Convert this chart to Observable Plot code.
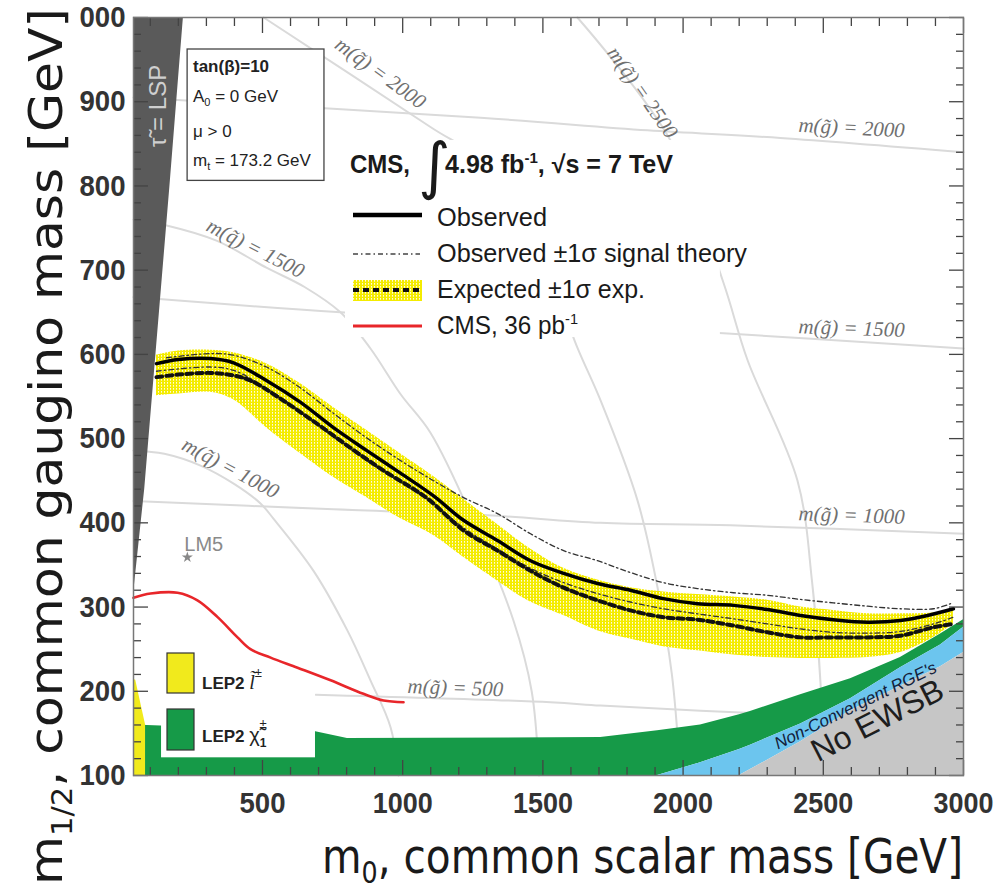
<!DOCTYPE html>
<html><head><meta charset="utf-8">
<script src="https://cdn.jsdelivr.net/npm/d3@7"></script>
<script src="https://cdn.jsdelivr.net/npm/@observablehq/plot@0.6"></script>
<style>body{margin:0;background:#fff;} svg{display:block}</style>
</head><body><div id="chart"></div>
<script>
// ---- axis ticks / labels ----
const xTicks = [500, 1000, 1500, 2000, 2500, 3000];
const xTickLabels = ["500", "1000", "1500", "2000", "2500", "3000"];
const xMinorTicks = [100,200,300,400,600,700,800,900,1100,1200,1300,1400,1600,1700,1800,1900,2100,2200,2300,2400,2600,2700,2800,2900];
const yTicks = [100, 200, 300, 400, 500, 600, 700, 800, 900, 1000];
const yTickLabels = ["100", "200", "300", "400", "500", "600", "700", "800", "900", "000"];
const yMinorTicks = [120,140,160,180,220,240,260,280,320,340,360,380,420,440,460,480,520,540,560,580,620,640,660,680,720,740,760,780,820,840,860,880,920,940,960,980];

// ---- exclusion curves [m0, m1/2] ----
const observed = [[122,589],[200,594],[315,595],[397,590],[514,569],[636,543],[753,513],[871,486],[992,459],[1110,432],[1217,403],[1338,379],[1456,355],[1574,340],[1695,328],[1812,320],[1930,310],[2051,304],[2180,302],[2301,297],[2419,290],[2536,285],[2658,282],[2775,284],[2872,290],[2964,298]];
const expected = [[122,573],[200,576],[315,578],[397,575],[457,569],[575,545],[693,518],[814,489],[932,462],[1049,438],[1099,426],[1217,391],[1338,367],[1456,343],[1574,323],[1695,308],[1812,296],[1930,288],[2051,285],[2180,278],[2301,270],[2419,264],[2536,264],[2658,264],[2775,266],[2893,276],[2964,280]];
const bandM0 = [122,200,315,397,514,636,753,871,992,1110,1217,1338,1456,1574,1695,1812,1930,2051,2180,2301,2419,2536,2658,2775,2893,2964];
const bandHi = [599,604,605,602,589,565,537,510,482,455,428,398,369,346,332,323,318,315,312,308,300,296,292,292,293,296];
const bandLo = [551,553,555,546,513,482,454,430,405,385,359,331,306,290,272,262,253,248,243,240,239,239,240,246,264,280];
const theoryUp = [[158,596],[315,601],[397,599],[514,585],[636,560],[753,530],[871,501],[992,474],[1110,450],[1217,430],[1338,411],[1456,387],[1574,367],[1695,355],[1812,341],[1930,329],[2051,322],[2180,317],[2301,314],[2419,309],[2536,305],[2658,301],[2775,298],[2893,298],[2954,304]];
const theoryDown = [[122,580],[315,585],[397,581],[514,560],[636,532],[753,502],[871,474],[992,448],[1110,423],[1217,394],[1338,369],[1456,346],[1574,329],[1695,316],[1812,306],[1930,298],[2051,292],[2180,286],[2301,280],[2419,274],[2536,270],[2658,269],[2775,271],[2893,280],[2964,288]];
const cms36 = [[40,311],[101,316],[197,317],[268,308],[340,288],[411,264],[457,250],[529,240],[625,228],[743,213],[860,197],[932,189],[1003,187]];

// ---- excluded / unphysical regions ----
const stauLSP = [[40,315],[80,440],[120,600],[170,800],[218,1000]];        // [m0 boundary, m1/2]
const lepSlepton = [[83,100],[83,160],[48,213],[40,214]];                   // [m0 boundary, m1/2]
const regionM0 = [40, 690, 803, 1706, 1909, 2062, 2201, 2240, 2419, 2597, 2775, 2918, 3000];
const ewsbTop  = [100,100,100,100,100,100,100,107,140,177,206,229,246];
const rgeTop   = [100,100,100,100,100,115,131,136,161,191,228,255,276];
const lepChiTop= [160,152,144,145,153,160,172,176,196,215,240,268,285];

// ---- iso-mass contours ----
const squark1000 = [[40,486],[150,482],[279,468],[400,446],[493,423],[539,405],[682,343],[803,272],[885,213],[957,157],[985,100]];
const squark1500 = [[40,760],[158,753],[336,735],[514,703],[650,680],[778,650],[885,607],[992,553],[1099,507],[1242,410],[1395,284],[1460,200],[1486,100]];
const squark2000 = [[504,1000],[1099,870],[1278,830],[1480,730],[1623,608],[1706,545],[1837,427],[1909,323],[1960,220],[1990,100]];
const squark2500 = [[1623,1000],[1955,854],[2144,685],[2230,593],[2408,450],[2460,330],[2490,210],[2497,100]];
const gluino500  = [[690,196],[1527,187],[1706,183],[2062,177],[3000,163]];
const gluino1000 = [[40,426],[753,416],[1303,409],[1706,400],[2169,397],[3000,387]];
const gluino1500 = [[40,668],[778,650],[2144,625],[3000,607]];
const gluino2000 = [[40,905],[1278,881],[1873,866],[2347,857],[3000,840]];
const isoLabels = [
  {t:"m(q\u0303) = 2000", m0:921,  m12:934, a:36},
  {t:"m(q\u0303) = 2500", m0:1855, m12:911, a:55},
  {t:"m(q\u0303) = 1500", m0:475,  m12:726, a:27},
  {t:"m(q\u0303) = 1000", m0:386,  m12:465, a:28},
  {t:"m(g\u0303) = 2000", m0:2601, m12:869, a:3},
  {t:"m(g\u0303) = 1500", m0:2601, m12:631, a:2},
  {t:"m(g\u0303) = 1000", m0:2601, m12:409, a:2},
  {t:"m(g\u0303) = 500",  m0:1188, m12:204, a:2}
];
const lm5 = [{m0:232, m12:359, name:"LM5"}];
const stauLabel = [{t:"\u03c4\u0303 = LSP", m0:129, m12:895}];
const rgeLabel = [{t:"Non-Convergent RGE's", m0:2615, m12:183}];
const ewsbLabel = [{t:"No EWSB", m0:2693, m12:165}];
// white legend backgrounds (in axis units)
const legendBoxes = [
  {x1:796, x2:2133, y1:620, y2:854, s:"none"},
  {x1:140, x2:689,  y1:121, y2:250, s:"none"},
  {x1:233, x2:721,  y1:806, y2:962, s:"#444"}
];

const band = bandM0.map((m, i) => ({m0: m, lo: bandLo[i], hi: bandHi[i]}));
const regions = regionM0.map((m, i) => ({m0: m, ewsb: ewsbTop[i], rge: rgeTop[i], lep: lepChiTop[i]}));
const X = d => d[0], Y = d => d[1];
const isoStyle = {x: X, y: Y, stroke: "#dadada", strokeWidth: 2, curve: "catmull-rom"};
const sans = "Liberation Sans, Arial, sans-serif";

const plot = Plot.plot({
  width: 998, height: 892,
  marginLeft: 133, marginRight: 35, marginTop: 17, marginBottom: 117,
  x: {domain: [40, 3000]},
  y: {domain: [100, 1000]},
  style: {background: "#fff", overflow: "visible"},
  marks: [
    ...[squark1000, squark1500, squark2000, squark2500, gluino500, gluino1000, gluino1500, gluino2000].map(c => Plot.line(c, isoStyle)),
    Plot.text(isoLabels, {x:"m0", y:"m12", text:"t", rotate:"a", fontFamily:"Liberation Serif, serif", fontStyle:"italic", fontSize:21, fill:"#707070"}),
    Plot.areaX(stauLSP, {y: Y, x1: 40, x2: X, fill: "#5a5a5a", curve: "linear"}),
    Plot.areaY(regions, {x:"m0", y1:"rge", y2:"lep", fill:"#169a48"}),
    Plot.areaY(regions, {x:"m0", y1:"ewsb", y2:"rge", fill:"#6cc5ee"}),
    Plot.areaY(regions, {x:"m0", y1:100, y2:"ewsb", fill:"#c6c6c6"}),
    Plot.areaX(lepSlepton, {y: Y, x1: 40, x2: X, fill: "#f1ea1c"}),
    Plot.rect(legendBoxes, {x1:"x1", x2:"x2", y1:"y1", y2:"y2", fill:"#fff", stroke:"s", strokeWidth:1.3}),
    Plot.areaY(band, {x:"m0", y1:"lo", y2:"hi", fill:"url(#ypat)", curve:"catmull-rom"}),
    Plot.line(theoryUp, {x:X, y:Y, stroke:"#333", strokeWidth:1.3, strokeDasharray:"5,3,1.5,3", curve:"catmull-rom"}),
    Plot.line(theoryDown, {x:X, y:Y, stroke:"#333", strokeWidth:1.3, strokeDasharray:"5,3,1.5,3", curve:"catmull-rom"}),
    Plot.line(expected, {x:X, y:Y, stroke:"#111", strokeWidth:4, strokeDasharray:"6,4", curve:"catmull-rom"}),
    Plot.line(observed, {x:X, y:Y, stroke:"#000", strokeWidth:3.5, curve:"catmull-rom"}),
    Plot.line(cms36, {x:X, y:Y, stroke:"#e8262a", strokeWidth:2.6, curve:"catmull-rom"}),
    Plot.dot(lm5, {x:"m0", y:"m12", symbol:"star", r:3.5, fill:"#888", stroke:"none"}),
    Plot.text(lm5, {x:"m0", y:"m12", text:"name", textAnchor:"start", dx:-3, dy:-13, fontSize:20, fill:"#8a8a8a", fontFamily:sans}),
    Plot.text(stauLabel, {x:"m0", y:"m12", text:"t", rotate:-90, fontSize:24, fill:"#cfcfcf", fontFamily:sans}),
    Plot.text(rgeLabel, {x:"m0", y:"m12", text:"t", rotate:-26, fontSize:17, fontStyle:"italic", fill:"#13203a", fontFamily:sans}),
    Plot.text(ewsbLabel, {x:"m0", y:"m12", text:"t", rotate:-27, fontSize:32, fill:"#1e1e1e", fontFamily:sans}),
    // ticks (inward) + labels
    Plot.axisX({anchor:"bottom", ticks:xTicks, tickSize:-15, tickFormat:() => "", label:null, stroke:"#444", strokeWidth:1.3}),
    Plot.axisX({anchor:"bottom", ticks:xMinorTicks, tickSize:-8, tickFormat:() => "", label:null, stroke:"#444", strokeWidth:1.3}),
    Plot.axisX({anchor:"top", ticks:xTicks, tickSize:-15, tickFormat:() => "", label:null, stroke:"#444", strokeWidth:1.3}),
    Plot.axisX({anchor:"top", ticks:xMinorTicks, tickSize:-8, tickFormat:() => "", label:null, stroke:"#444", strokeWidth:1.3}),
    Plot.axisY({anchor:"left", ticks:yTicks, tickSize:-15, tickFormat:() => "", label:null, stroke:"#444", strokeWidth:1.3}),
    Plot.axisY({anchor:"left", ticks:yMinorTicks, tickSize:-8, tickFormat:() => "", label:null, stroke:"#444", strokeWidth:1.3}),
    Plot.axisY({anchor:"right", ticks:yTicks, tickSize:-15, tickFormat:() => "", label:null, stroke:"#444", strokeWidth:1.3}),
    Plot.axisY({anchor:"right", ticks:yMinorTicks, tickSize:-8, tickFormat:() => "", label:null, stroke:"#444", strokeWidth:1.3}),
    Plot.axisX({anchor:"bottom", ticks:xTicks, tickSize:0, tickPadding:16, tickFormat:d => xTickLabels[xTicks.indexOf(d)], label:null, fontSize:30, fontWeight:"bold", fill:"#333"}),
    Plot.axisY({anchor:"left", ticks:yTicks, tickSize:0, tickPadding:8, tickFormat:d => yTickLabels[yTicks.indexOf(d)], label:null, fontSize:30, fontWeight:"bold", fill:"#333"}),
    Plot.frame({stroke:"#777", strokeWidth:1.5})
  ]
});
document.getElementById("chart").appendChild(plot);

const svg = d3.select(plot);
// pattern for expected band
const defs = svg.insert("defs", ":first-child");
const pat = defs.append("pattern").attr("id","ypat").attr("patternUnits","userSpaceOnUse").attr("width",3).attr("height",3);
pat.append("rect").attr("width",3).attr("height",3).attr("fill","#f4ec00");
pat.append("rect").attr("x",2).attr("y",1).attr("width",1).attr("height",1).attr("fill","#fffbe0");
pat.append("rect").attr("x",2).attr("y",2).attr("width",1).attr("height",1).attr("fill","#fbf59a");

// tick label widths (narrow rendering)
svg.selectAll('g[aria-label="x-axis tick label"] text, g[aria-label="y-axis tick label"] text').each(function() {
  const t = this.textContent;
  if (!t) return;
  d3.select(this).attr("textLength", t.length === 4 ? 60 : 46).attr("lengthAdjust", "spacingAndGlyphs").style("font-family", sans);
});

const g = svg.append("g").attr("fill", "#1a1a1a").attr("text-anchor", "start").attr("font-family", sans);
// axis titles
const xt = g.append("text").attr("x", 322).attr("y", 873).attr("font-size", 48)
  .attr("font-family", "DejaVu Sans, sans-serif").attr("textLength", 641).attr("lengthAdjust", "spacingAndGlyphs");
xt.append("tspan").text("m");
xt.append("tspan").attr("font-size", 30).attr("dy", 10).text("0");
xt.append("tspan").attr("dy", -10).text(", common scalar mass [GeV]");
const yt = g.append("text").attr("transform", "translate(62,885) rotate(-90)").attr("font-size", 46)
  .attr("font-family", "DejaVu Sans, sans-serif").attr("textLength", 877).attr("lengthAdjust", "spacingAndGlyphs");
yt.append("tspan").text("m");
yt.append("tspan").attr("font-size", 28).attr("dy", 10).text("1/2");
yt.append("tspan").attr("dy", -10).text(", common gaugino mass [GeV]");

// parameter box text
const pb = g.append("g").attr("font-size", 17).attr("fill", "#222");
pb.append("text").attr("x", 193).attr("y", 72).attr("font-weight", "bold").text("tan(\u03b2)=10");
const a0 = pb.append("text").attr("x", 193).attr("y", 102);
a0.append("tspan").text("A"); a0.append("tspan").attr("font-size", 11).attr("dy", 4).text("0"); a0.append("tspan").attr("dy", -4).text(" = 0 GeV");
pb.append("text").attr("x", 193).attr("y", 137).text("\u03bc > 0");
const mt = pb.append("text").attr("x", 193).attr("y", 166);
mt.append("tspan").text("m"); mt.append("tspan").attr("font-size", 11).attr("dy", 4).text("t"); mt.append("tspan").attr("dy", -4).text(" = 173.2 GeV");

// main legend
const lg = g.append("g").attr("fill", "#1a1a1a");
lg.append("text").attr("x", 350).attr("y", 173).attr("font-size", 25).attr("font-weight", "bold").attr("textLength", 60).attr("lengthAdjust","spacingAndGlyphs").text("CMS,");
lg.append("text").attr("x", 418).attr("y", 187).attr("font-size", 62).attr("font-family", "DejaVu Sans, sans-serif").text("\u222b");
const lum = lg.append("text").attr("x", 445).attr("y", 173).attr("font-size", 25).attr("font-weight", "bold").attr("textLength", 228).attr("lengthAdjust","spacingAndGlyphs");
lum.append("tspan").text("4.98 fb"); lum.append("tspan").attr("font-size", 15).attr("dy", -10).text("-1");
lum.append("tspan").attr("dy", 10).text(", \u221as = 7 TeV");
lg.append("line").attr("x1", 353).attr("x2", 422).attr("y1", 215).attr("y2", 215).attr("stroke", "#000").attr("stroke-width", 4.5);
lg.append("text").attr("x", 437).attr("y", 226).attr("font-size", 25).attr("textLength", 110).attr("lengthAdjust","spacingAndGlyphs").text("Observed");
lg.append("line").attr("x1", 353).attr("x2", 420).attr("y1", 254).attr("y2", 254).attr("stroke", "#444").attr("stroke-width", 1.3).attr("stroke-dasharray", "5,3,1.5,3");
lg.append("text").attr("x", 437).attr("y", 262).attr("font-size", 25).attr("textLength", 310).attr("lengthAdjust","spacingAndGlyphs").text("Observed \u00b11\u03c3 signal theory");
lg.append("rect").attr("x", 353).attr("y", 280).attr("width", 69).attr("height", 21).attr("fill", "url(#ypat)");
lg.append("line").attr("x1", 353).attr("x2", 422).attr("y1", 290).attr("y2", 290).attr("stroke", "#111").attr("stroke-width", 4).attr("stroke-dasharray", "6,4");
lg.append("text").attr("x", 437).attr("y", 298).attr("font-size", 25).attr("textLength", 208).attr("lengthAdjust","spacingAndGlyphs").text("Expected \u00b11\u03c3 exp.");
lg.append("line").attr("x1", 353).attr("x2", 422).attr("y1", 326).attr("y2", 326).attr("stroke", "#e8262a").attr("stroke-width", 3);
const c36 = lg.append("text").attr("x", 437).attr("y", 334).attr("font-size", 25).attr("textLength", 141).attr("lengthAdjust","spacingAndGlyphs");
c36.append("tspan").text("CMS, 36 pb"); c36.append("tspan").attr("font-size", 15).attr("dy", -10).text("-1");

// LEP2 legend
const lp = g.append("g");
lp.append("rect").attr("x", 167).attr("y", 653).attr("width", 27).attr("height", 40).attr("fill", "#f1ea1c").attr("stroke", "#333").attr("stroke-width", 1.2);
lp.append("rect").attr("x", 167).attr("y", 709).attr("width", 27).attr("height", 41).attr("fill", "#169a48").attr("stroke", "#333").attr("stroke-width", 1.2);
const l1 = lp.append("text").attr("x", 202).attr("y", 689).attr("font-size", 17).attr("fill", "#222");
l1.append("tspan").attr("font-weight", "bold").text("LEP2 ");
l1.append("tspan").attr("font-style", "italic").attr("font-family", "Liberation Serif, serif").attr("font-size", 20).text("l\u0303");
l1.append("tspan").attr("font-size", 13).attr("dy", -12).text("\u00b1");
const l2 = lp.append("text").attr("x", 202).attr("y", 742).attr("font-size", 17).attr("fill", "#222");
l2.append("tspan").attr("font-weight", "bold").text("LEP2 ");
l2.append("tspan").attr("font-size", 20).text("\u03c7\u0303");
l2.append("tspan").attr("font-size", 12).attr("dy", 5).attr("font-weight", "bold").text("1");
l2.append("tspan").attr("font-size", 13).attr("dy", -19).attr("dx", -7).text("\u00b1");
</script></body></html>
